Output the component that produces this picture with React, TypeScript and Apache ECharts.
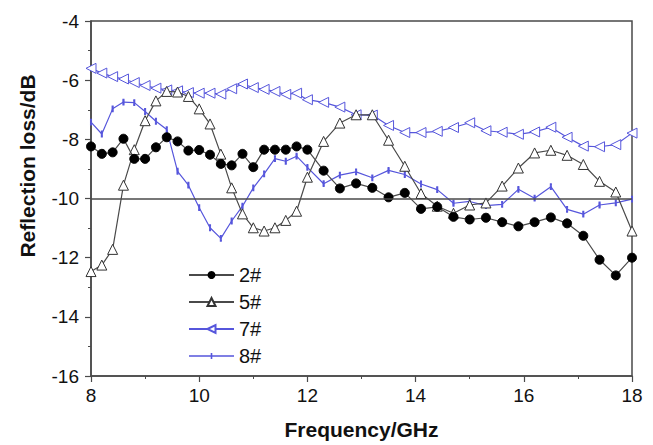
import React, { useEffect, useRef } from "react";
import * as echarts from "echarts";

const freq = [
  8.0, 8.2, 8.4, 8.6, 8.8, 9.0, 9.2, 9.4, 9.6, 9.8, 10.0, 10.2, 10.4, 10.6, 10.8, 11.0, 11.2, 11.4, 11.6, 11.8, 12.0,
  12.3, 12.6, 12.9, 13.2, 13.5, 13.8, 14.1, 14.4, 14.7, 15.0, 15.3, 15.6, 15.9, 16.2, 16.5, 16.8, 17.1, 17.4, 17.7, 18.0,
];

const s2 = [
  -8.24, -8.49, -8.44, -7.98, -8.66, -8.66, -8.27, -7.93, -8.07, -8.38, -8.36, -8.52, -8.83, -8.88, -8.49, -8.94, -8.35, -8.35, -8.35, -8.24, -8.35,
  -9.06, -9.66, -9.49, -9.64, -9.96, -9.81, -10.35, -10.28, -10.62, -10.71, -10.65, -10.8, -10.94, -10.8, -10.64, -10.84, -11.26, -12.07, -12.6, -12.0,
];

const s5 = [
  -12.47, -12.25, -11.72, -9.55, -8.35, -7.37, -6.7, -6.38, -6.4, -6.55, -6.97, -7.48, -8.5, -9.64, -10.52, -10.99, -11.1, -10.99, -10.74, -10.43, -9.28,
  -8.07, -7.45, -7.17, -7.17, -8.03, -8.91, -9.83, -10.26, -10.5, -10.22, -10.15, -9.58, -8.97, -8.46, -8.37, -8.54, -8.85, -9.42, -9.78, -11.1,
];

const s7 = [
  -5.6, -5.76, -5.88, -5.96, -6.08, -6.18, -6.27, -6.33, -6.36, -6.42, -6.44, -6.44, -6.47, -6.29, -6.13, -6.25, -6.31, -6.38, -6.48, -6.44, -6.66,
  -6.75, -6.91, -7.17, -7.18, -7.53, -7.77, -7.77, -7.73, -7.6, -7.44, -7.71, -7.76, -7.83, -7.75, -7.59, -7.93, -8.23, -8.25, -8.18, -7.79,
];

const s8 = [
  -7.42, -7.82, -6.97, -6.74, -6.76, -7.06, -7.39, -7.67, -9.08, -9.55, -10.31, -10.99, -11.35, -10.76, -10.26, -9.64, -9.17, -8.65, -8.74, -8.57, -8.95,
  -9.5, -9.21, -9.1, -9.3, -9.05, -9.19, -9.51, -9.7, -10.16, -10.1, -10.24, -10.2, -9.69, -9.99, -9.6, -10.37, -10.53, -10.22, -10.15, -10.02,
];

const seriesNames = ["2#", "5#", "7#", "8#"];
const refLevel = -10;

const FONT = "'Liberation Sans', Arial, sans-serif";
const BLUE = "#5656dc";
const GRAY = "#4a4a4a";

const pairs = (ys: number[]) => freq.map((f, i) => [f, ys[i]]);

export default function App() {
  const ref = useRef<HTMLDivElement>(null);
  useEffect(() => {
    if (!ref.current) return;
    const chart = echarts.init(ref.current, undefined, { renderer: "svg" });
    chart.setOption({
      animation: false,
      backgroundColor: "#ffffff",
      grid: {
        left: 91,
        right: 21,
        top: 21,
        bottom: 68,
        show: true,
        borderColor: GRAY,
        borderWidth: 1.5,
      },
      legend: {
        orient: "vertical",
        left: 188,
        top: 265,
        padding: 0,
        itemWidth: 45,
        itemHeight: 10,
        itemGap: 7,
        data: [
          seriesNames[0],
          seriesNames[1],
          seriesNames[2],
          { name: seriesNames[3], icon: "path://M0,4.2L45,4.2L45,5.8L0,5.8Z M21.7,2L23.3,2L23.3,8L21.7,8Z" },
        ],
        textStyle: { fontFamily: FONT, fontSize: 20, color: "#111", lineHeight: 19 },
      },
      xAxis: {
        type: "value",
        min: 8,
        max: 18,
        interval: 2,
        name: "Frequency/GHz",
        nameLocation: "middle",
        nameGap: 43,
        nameTextStyle: { fontFamily: FONT, fontSize: 21, fontWeight: "bold", color: "#111" },
        axisLine: { lineStyle: { color: GRAY, width: 1.5 } },
        axisTick: { show: true, inside: false, length: 6, lineStyle: { color: GRAY, width: 1.2 } },
        minorTick: { show: true, splitNumber: 2, length: 3, lineStyle: { color: GRAY, width: 1 } },
        splitLine: { show: false },
        axisLabel: { fontFamily: FONT, fontSize: 19, color: "#111", margin: 10 },
      },
      yAxis: {
        type: "value",
        min: -16,
        max: -4,
        interval: 2,
        axisLine: { show: true, lineStyle: { color: GRAY, width: 1.5 } },
        axisTick: { show: true, inside: false, length: 6, lineStyle: { color: GRAY, width: 1.2 } },
        minorTick: { show: true, splitNumber: 2, length: 3, lineStyle: { color: GRAY, width: 1 } },
        splitLine: { show: false },
        axisLabel: { fontFamily: FONT, fontSize: 19, color: "#111", margin: 12 },
      },
      graphic: [
        {
          type: "text",
          x: 27,
          y: 166,
          rotation: Math.PI / 2,
          style: {
            text: "Reflection loss/dB",
            fontFamily: FONT,
            fontSize: 21,
            fontWeight: "bold",
            fill: "#111",
            align: "center",
            verticalAlign: "middle",
          },
        },
      ],
      series: [
        {
          name: seriesNames[0],
          type: "line",
          data: pairs(s2),
          symbol: "circle",
          symbolSize: 9,
          lineStyle: { color: GRAY, width: 1.2 },
          itemStyle: { color: "#000", borderColor: "#000" },
          markLine: {
            silent: true,
            symbol: "none",
            label: { show: false },
            lineStyle: { color: GRAY, width: 1.5, type: "solid" },
            data: [{ yAxis: refLevel }],
          },
          z: 4,
        },
        {
          name: seriesNames[1],
          type: "line",
          data: pairs(s5),
          symbol: "triangle",
          symbolSize: 10,
          lineStyle: { color: GRAY, width: 1.2 },
          itemStyle: { color: "#ffffff", borderColor: "#333", borderWidth: 1 },
          z: 3,
        },
        {
          name: seriesNames[2],
          type: "line",
          data: pairs(s7),
          symbol: "triangle",
          symbolRotate: 90,
          symbolSize: 10,
          lineStyle: { color: BLUE, width: 1.2 },
          itemStyle: { color: "#ffffff", borderColor: BLUE, borderWidth: 1 },
          z: 2,
        },
        {
          name: seriesNames[3],
          type: "line",
          data: pairs(s8),
          symbol: "rect",
          symbolSize: [1.5, 5],
          lineStyle: { color: BLUE, width: 1.2 },
          itemStyle: { color: BLUE, borderColor: BLUE },
          z: 1,
        },
      ],
    });
    return () => chart.dispose();
  }, []);
  return <div ref={ref} style={{ width: 653, height: 445, position: "absolute", left: 0, top: 0 }} />;
}
